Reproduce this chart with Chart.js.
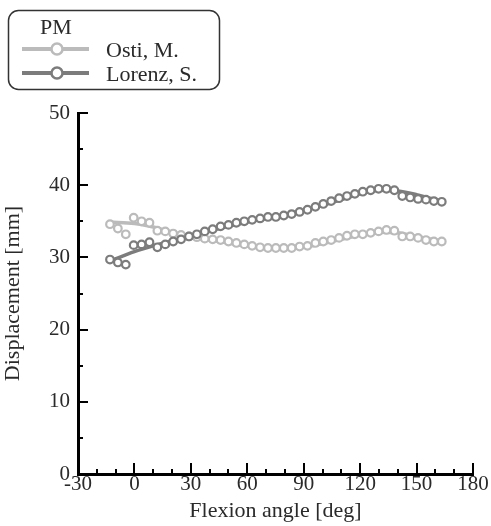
<!DOCTYPE html>
<html>
<head>
<meta charset="utf-8">
<script src="https://cdn.jsdelivr.net/npm/chart.js@4/dist/chart.umd.min.js"></script>
<style>
  html, body { margin: 0; padding: 0; background: #fff; }
  #wrap { width: 491px; height: 526px; }
</style>
</head>
<body>
<div id="wrap"><canvas id="pm-chart" width="491" height="526"></canvas></div>
<script>
// measured points (flexion angle in deg)
var angles = [-13, -8.8, -4.6, -0.4, 3.8, 8, 12.2, 16.4, 20.6, 24.8, 29, 33.2, 37.4, 41.6, 45.8,
              50, 54.2, 58.4, 62.6, 66.8, 71, 75.2, 79.4, 83.6, 87.8, 92, 96.2, 100.4, 104.6,
              108.8, 113, 117.2, 121.4, 125.6, 129.8, 134, 138.2, 142.4, 146.6, 150.8, 155, 159.2, 163.4];
var osti = [34.6, 34.0, 33.2, 35.5, 35.0, 34.8, 33.7, 33.6, 33.3, 33.1, 32.9, 32.8, 32.6, 32.5, 32.4,
            32.2, 32.0, 31.8, 31.6, 31.4, 31.3, 31.3, 31.3, 31.3, 31.5, 31.6, 32.0, 32.2, 32.4,
            32.7, 33.0, 33.2, 33.2, 33.4, 33.6, 33.8, 33.7, 32.9, 32.9, 32.7, 32.4, 32.2, 32.2];
var lorenz = [29.7, 29.3, 29.0, 31.7, 31.8, 32.1, 31.4, 31.8, 32.2, 32.5, 32.9, 33.2, 33.6, 33.9, 34.3,
              34.5, 34.8, 35.0, 35.2, 35.4, 35.6, 35.6, 35.8, 36.0, 36.3, 36.6, 37.0, 37.4, 37.8,
              38.2, 38.5, 38.8, 39.1, 39.3, 39.5, 39.5, 39.3, 38.5, 38.3, 38.1, 38.0, 37.8, 37.7];

// smooth fitted curves
var fitAngles = [-13, 0, 10, 20, 30, 40, 50, 60, 70, 80, 90, 100, 110, 120, 130, 140, 150, 163];
var ostiFit = [34.9, 34.7, 34.2, 33.5, 32.9, 32.4, 32.0, 31.6, 31.4, 31.3, 31.4, 31.9, 32.5, 33.1, 33.5, 33.4, 32.9, 32.3];
var lorenzFit = [29.5, 30.8, 31.6, 32.3, 33.0, 33.7, 34.3, 34.9, 35.4, 35.9, 36.5, 37.2, 38.0, 38.8, 39.3, 39.2, 38.7, 37.8];

var xTicks = [-30, 0, 30, 60, 90, 120, 150, 180];
var yTicks = [0, 10, 20, 30, 40, 50];
var legendTitle = 'PM';
var seriesNames = ['Osti, M.', 'Lorenz, S.'];

var lightGray = '#bbbbbb';
var darkGray = '#7c7c7c';
var textColor = '#2a2a2a';
var serif = '"Liberation Serif", "DejaVu Serif", serif';

function pts(xs, ys) {
    return xs.map(function (x, i) { return { x: x, y: ys[i] }; });
}

// inward tick marks + custom legend box
var decor = {
    id: 'decor',
    afterDraw: function (chart) {
        var ctx = chart.ctx;
        var xs = chart.scales.x, ys = chart.scales.y;
        var left = chart.chartArea.left, bottom = chart.chartArea.bottom;
        ctx.save();
        ctx.strokeStyle = '#000';
        ctx.lineWidth = 2;
        for (var v = -20; v <= 180; v += 10) {
            var px = Math.round(xs.getPixelForValue(v));
            var len = (v % 30 === 0) ? 11 : 5;
            ctx.beginPath();
            ctx.moveTo(px, bottom);
            ctx.lineTo(px, bottom - len);
            ctx.stroke();
        }
        for (var w = 5; w <= 50; w += 5) {
            var py = Math.round(ys.getPixelForValue(w));
            var l = (w % 10 === 0) ? 10 : 5;
            ctx.beginPath();
            ctx.moveTo(left, py);
            ctx.lineTo(left + l, py);
            ctx.stroke();
        }

        // legend
        ctx.lineWidth = 1.5;
        ctx.strokeStyle = '#333';
        ctx.beginPath();
        ctx.roundRect(8.5, 10.5, 211, 79, 10);
        ctx.stroke();
        ctx.fillStyle = textColor;
        ctx.font = '22px ' + serif;
        ctx.textBaseline = 'middle';
        ctx.textAlign = 'left';
        ctx.fillText(legendTitle, 40, 28);
        var rows = [49, 73];
        var cols = [lightGray, darkGray];
        for (var i = 0; i < 2; i++) {
            ctx.strokeStyle = cols[i];
            ctx.lineWidth = 4;
            ctx.beginPath();
            ctx.moveTo(22, rows[i]);
            ctx.lineTo(89, rows[i]);
            ctx.stroke();
            ctx.fillStyle = '#fff';
            ctx.lineWidth = 2.5;
            ctx.beginPath();
            ctx.arc(57, rows[i], 5.5, 0, Math.PI * 2);
            ctx.fill();
            ctx.stroke();
            ctx.fillStyle = textColor;
            ctx.fillText(seriesNames[i], 106, rows[i] + 2);
        }
        ctx.restore();
    }
};

var canvas = document.getElementById('pm-chart');

var chart = new Chart(canvas, {
    type: 'scatter',
    data: {
        datasets: [
            { label: seriesNames[0] + ' fit', data: pts(fitAngles, ostiFit), showLine: true,
              borderColor: lightGray, borderWidth: 3.5, pointRadius: 0, tension: 0.4,
              cubicInterpolationMode: 'monotone', order: 4 },
            { label: seriesNames[1] + ' fit', data: pts(fitAngles, lorenzFit), showLine: true,
              borderColor: darkGray, borderWidth: 3.5, pointRadius: 0, tension: 0.4,
              cubicInterpolationMode: 'monotone', order: 3 },
            { label: seriesNames[0], data: pts(angles, osti), showLine: false,
              borderColor: lightGray, backgroundColor: '#fff', pointRadius: 3.8,
              pointBorderWidth: 2.2, order: 2 },
            { label: seriesNames[1], data: pts(angles, lorenz), showLine: false,
              borderColor: darkGray, backgroundColor: '#fff', pointRadius: 3.8,
              pointBorderWidth: 2.2, order: 1 }
        ]
    },
    options: {
        responsive: false,
        animation: false,
        layout: { padding: { left: 0, right: 18, top: 113, bottom: 2 } },
        plugins: { legend: { display: false }, tooltip: { enabled: false } },
        scales: {
            x: {
                type: 'linear', min: -30, max: 180,
                afterBuildTicks: function (s) { s.ticks = xTicks.map(function (v) { return { value: v }; }); },
                afterFit: function (s) { s.height = 50; },
                grid: { display: false, drawTicks: false },
                border: { display: true, color: '#000', width: 3 },
                ticks: { color: textColor, padding: -2, maxRotation: 0, font: { family: serif, size: 21 } },
                title: { display: true, text: 'Flexion angle [deg]', color: textColor,
                         padding: { top: 0, bottom: 0 }, font: { family: serif, size: 22 } }
            },
            y: {
                type: 'linear', min: 0, max: 50,
                afterBuildTicks: function (s) { s.ticks = yTicks.map(function (v) { return { value: v }; }); },
                afterFit: function (s) { s.width = 78; },
                grid: { display: false, drawTicks: false },
                border: { display: true, color: '#000', width: 3 },
                ticks: { color: textColor, padding: 8, font: { family: serif, size: 21 } },
                title: { display: true, text: 'Displacement [mm]', color: textColor,
                         padding: { top: 0, bottom: 0 }, font: { family: serif, size: 22 } }
            }
        }
    },
    plugins: [decor]
});
</script>
</body>
</html>
